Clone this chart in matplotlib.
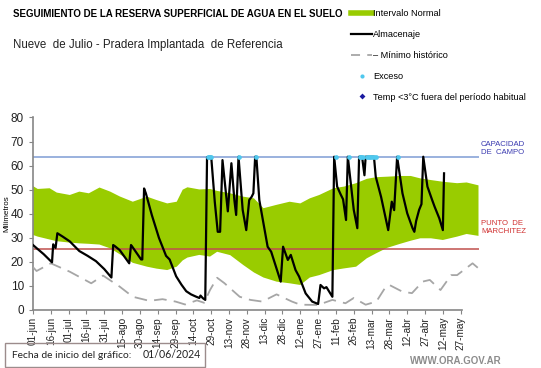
import numpy as np
import matplotlib
matplotlib.use('Agg')
import matplotlib.pyplot as plt
from matplotlib.lines import Line2D
from matplotlib.patches import Rectangle

plt.rcParams['font.family'] = ['Liberation Sans', 'DejaVu Sans']

# dias contados desde el 01/06/2024
tick_days = list(range(0, 361, 15))
tick_labels = ['01-jun', '16-jun', '01-jul', '16-jul', '31-jul', '15-ago', '30-ago',
               '14-sep', '29-sep', '14-oct', '29-oct', '13-nov', '28-nov', '13-dic',
               '28-dic', '12-ene', '27-ene', '11-feb', '26-feb', '13-mar', '28-mar',
               '12-abr', '27-abr', '12-may', '27-may']

capacidad = 63.7
marchitez = 25.4

# intervalo normal
band_days = [0, 4, 14, 20, 31, 39, 47, 56, 65, 73, 84, 96, 104, 113, 121, 126, 130,
             140, 149, 155, 166, 177, 186, 194, 205, 216, 225, 233, 241, 253, 262,
             272, 281, 289, 298, 309, 318, 326, 335, 345, 357, 365, 375]
band_upper = [51.5, 50.3, 50.6, 48.8, 47.8, 49.2, 48.5, 50.9, 49.2, 47.2, 45.0, 47.1,
              45.7, 44.3, 45.0, 50.0, 51.0, 50.1, 50.3, 49.5, 48.5, 47.1, 46.4, 42.3,
              43.7, 45.0, 44.3, 46.4, 47.8, 50.6, 51.3, 52.7, 54.5, 55.2, 55.4, 55.7,
              55.7, 54.7, 54.0, 53.3, 52.7, 53.0, 51.8]
band_lower = [31.2, 30.5, 29.3, 28.6, 28.0, 27.7, 27.5, 27.2, 25.6, 23.2, 19.6, 18.0,
              17.2, 16.6, 18.0, 20.6, 21.8, 22.9, 22.2, 24.2, 22.8, 18.7, 15.6, 13.5,
              11.8, 11.1, 10.4, 13.5, 14.5, 16.6, 17.3, 18.0, 21.5, 23.6, 25.8, 27.5,
              28.8, 29.8, 29.8, 29.1, 30.5, 31.6, 30.8]

# minimo historico
min_days = [0, 3, 15, 31, 49, 59, 73, 84, 98, 109, 120, 128, 138, 144, 149, 155, 161,
            174, 183, 193, 205, 218, 225, 240, 252, 263, 270, 280, 289, 297, 300, 311,
            319, 328, 334, 343, 352, 357, 370, 375]
min_vals = [17.8, 16.2, 19.4, 15.9, 11.1, 14.3, 9.7, 5.5, 3.8, 4.5, 3.5, 2.3, 4.0, 3.0,
            8.3, 13.4, 11.2, 5.5, 4.2, 3.5, 6.5, 3.5, 2.2, 2.1, 4.2, 2.8, 5.0, 2.2, 3.5,
            9.7, 10.4, 7.6, 7.0, 11.8, 12.5, 8.3, 14.5, 14.5, 19.4, 17.3]

# almacenaje
alm_days = [0, 4, 9, 16, 17, 19, 20.5, 25, 31, 39, 46, 53, 60, 66, 67.5, 69, 73, 81,
            82.5, 84, 91, 92, 93.5, 95, 100, 106, 112, 115, 120.5, 125, 129, 133, 137,
            140, 141, 143, 145, 146.5, 149, 150, 153, 155.5, 157.5, 159.5, 164, 167,
            169.5, 171, 173, 176.5, 179.5, 182, 184, 185.5, 187, 188, 190.5, 194.5,
            197.5, 200.5, 204.5, 208.5, 210.5, 214.5, 217, 221, 224, 229.5, 235, 240,
            242, 245, 247, 252, 253.5, 256, 259, 261, 263.5, 265, 270, 273, 274.5, 277,
            279, 280, 287, 288.5, 293, 299, 302, 304, 306.5, 311, 315, 319.5, 321,
            322.5, 325, 327, 328.5, 332, 336, 338, 342, 345, 346]
alm_vals = [27, 25.3, 23.2, 19.8, 27.3, 25.8, 31.9, 30.5, 28.5, 24.5, 22.5, 20.3, 17.0,
            13.5, 27, 26.5, 24.9, 19.4, 27, 26, 21, 21, 50.5, 48.5, 39.5, 30, 22.5, 21,
            14, 10.5, 7.8, 6.5, 5.6, 5.0, 6.0, 4.9, 4.2, 63.5, 63.7, 63.7, 45, 32.5,
            32.5, 62.3, 41, 61, 45.7, 39.5, 63.7, 41.6, 33.2, 45.7, 47, 48.5, 63.7,
            63.7, 45.7, 34.6, 26.3, 24.2, 18, 11.8, 26.3, 20.8, 22.9, 16.6, 13.9, 6.9,
            3.5, 2.5, 10.4, 9, 9.5, 5.5, 63.7, 51.3, 48, 46, 37.4, 63.7, 41.6, 34,
            63.7, 63.7, 56, 63.7, 63.7, 55.4, 47, 33.2, 45, 41.5, 63.7, 48.5, 40.2, 34,
            32.5, 37, 41.6, 44, 63.7, 51.3, 45.7, 43, 38.1, 33.2, 56.8]

# dias con exceso
exceso_days = [147, 148.5, 150, 173, 187.5, 255, 266, 275, 276.5, 278, 281, 282.5,
               284, 285.5, 287, 288.5, 307]

fig = plt.figure(figsize=(5.41, 3.68), dpi=100)
ax = fig.add_axes([33 / 541, 58 / 368, 445.5 / 541, 192.5 / 368])

ax.fill(np.r_[band_days, band_days[::-1]], np.r_[band_upper, band_lower[::-1]],
        color='#99CC00', lw=0, zorder=1)
ax.hlines(capacidad, 0, 375, color='#7F9DD4', lw=1.1, zorder=2)
ax.hlines(marchitez, 0, 375, color='#C0504D', lw=1.1, zorder=2)
ax.plot(min_days, min_vals, color='#A6A6A6', lw=1.3, dashes=(7, 4), zorder=3)
ax.plot(alm_days, alm_vals, color='black', lw=1.6, zorder=4)
ax.plot(exceso_days, [capacidad] * len(exceso_days), ls='none', marker='o',
        ms=3.4, color='#4FC8EE', mec='none', zorder=5)

ax.set_xlim(0, 375)
ax.set_ylim(0, 80)
ax.set_yticks(range(0, 81, 10))
ax.set_xticks(tick_days)
ax.set_xticklabels(tick_labels, rotation=90, fontsize=7.2, color='#222222')
ax.tick_params(axis='y', labelsize=8.5, colors='#222222', length=3, width=0.8,
               color='#868686')
ax.tick_params(axis='x', length=3, width=0.8, color='#868686', pad=2)
for s in ['top', 'right']:
    ax.spines[s].set_visible(False)
ax.spines['left'].set_color('#868686')
ax.spines['bottom'].set_color('#868686')
ax.spines['left'].set_linewidth(1.2)
ax.spines['bottom'].set_linewidth(1.2)
ax.spines['bottom'].set_bounds(0, 361)
ax.set_ylabel('Milímetros', fontsize=5.8, labelpad=3)
ax.yaxis.set_label_coords(-0.051, 0.5)

ax.text(377, capacidad + 0.3, 'CAPACIDAD\nDE  CAMPO', fontsize=5.6, color='#3A3AB0',
        va='bottom', ha='left', linespacing=1.2, clip_on=False)
ax.text(377, marchitez + 5.6, 'PUNTO  DE\nMARCHITEZ', fontsize=5.6, color='#D03030',
        va='bottom', ha='left', linespacing=1.2, clip_on=False)

fig.text(13 / 541, 1 - 14 / 368, 'SEGUIMIENTO DE LA RESERVA SUPERFICIAL DE AGUA EN EL SUELO',
         fontsize=7.0, fontweight='bold', va='center')
fig.text(13 / 541, 1 - 45 / 368, 'Nueve  de Julio - Pradera Implantada  de Referencia',
         fontsize=8.3, va='center', color='#222222')

handles = [
    Line2D([], [], color='#99CC00', lw=4),
    Line2D([], [], color='black', lw=1.6),
    Line2D([], [], color='#A6A6A6', lw=1.3, dashes=(5, 4)),
    Line2D([], [], ls='none', marker='o', ms=3, color='#4FC8EE', mec='none'),
    Line2D([], [], ls='none', marker='D', ms=3, color='#1A1AA0', mec='none'),
]
labels = ['Intervalo Normal', 'Almacenaje', '– Mínimo histórico', 'Exceso',
          'Temp <3°C fuera del período habitual']
fig.legend(handles, labels, loc='upper left', bbox_to_anchor=(351 / 541, 1 - 9 / 368),
           frameon=False, fontsize=6.6, labelspacing=1.3, handlelength=2.3,
           handletextpad=0.15, borderaxespad=0, borderpad=0)

fig.patches.append(Rectangle((5 / 541, 1 - 367 / 368), 200 / 541, 24 / 368,
                             transform=fig.transFigure, fill=False,
                             edgecolor='#9C8C8C', lw=1.0))
fig.text(12 / 541, 1 - 355 / 368, 'Fecha de inicio del gráfico:', fontsize=7.4,
         family='Lato', va='center', color='#222222')
fig.text(143 / 541, 1 - 355 / 368, '01/06/2024', fontsize=7.6, family='Lato',
         va='center', color='#222222')
fig.text(502 / 541, 1 - 361 / 368, 'WWW.ORA.GOV.AR', fontsize=7, fontweight='bold',
         color='#8C8C8C', ha='right', va='center')

fig.savefig('out.png', dpi=100)
